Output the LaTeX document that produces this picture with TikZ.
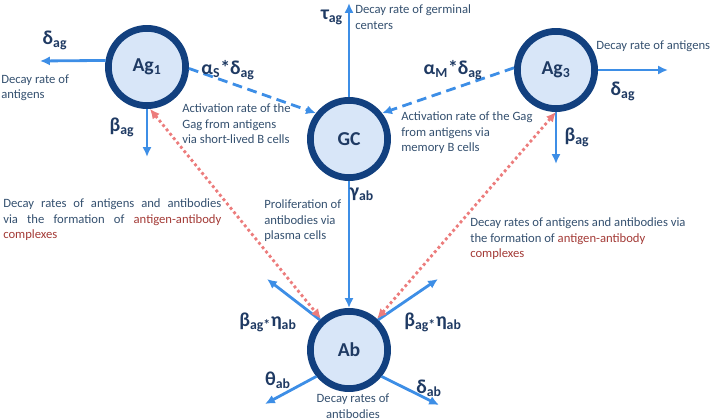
\documentclass[tikz,border=0pt]{standalone}
\usepackage{fontspec}
\setmainfont{Carlito}
\usetikzlibrary{arrows.meta}
\definecolor{poolnavy}{HTML}{12407F}
\definecolor{poolfill}{HTML}{D8E6F8}
\definecolor{flowblue}{HTML}{3D8EE6}
\definecolor{ratenavy}{HTML}{1F3A63}
\definecolor{notegray}{HTML}{34506F}
\definecolor{complexred}{HTML}{A33A36}
\definecolor{complexpink}{HTML}{EC7C7C}
\newcommand{\rate}[2]{#1\textsubscript{#2}}

\begin{document}
\begin{tikzpicture}[
x=0.025cm,
y=-0.025cm,
>={Latex[length=7pt,width=6.5pt]},
font=\fontsize{9}{11}\selectfont,
pool/.style={
circle,
draw=poolnavy,
line width=4.8pt,
fill=poolfill,
minimum size=1.93cm,
text=ratenavy,
font=\fontsize{14}{16}\selectfont\bfseries
},
flow/.style={
->,
line width=2pt,
draw=flowblue
},
activation/.style={
->,
line width=2pt,
draw=flowblue,
dash pattern=on 7pt off 4pt
},
complex/.style={
<->,
line width=2pt,
draw=complexpink,
dotted
},
ratelabel/.style={
inner sep=0pt,
text=ratenavy,
font=\fontsize{14}{16}\selectfont\bfseries
},
note/.style={
inner sep=0pt,
align=left,
text=notegray
}
]

\useasboundingbox (0,0) rectangle (713,420);

\node[pool] (ag1) at (147,67) {Ag\textsubscript{1}};
\node[pool] (gc) at (349,139) {GC};
\node[pool] (ag3) at (556,70) {Ag\textsubscript{3}};
\node[pool] (ab) at (349,350) {Ab};

\coordinate (ag1out) at (40,61);
\coordinate (ag1down) at (147,157);
\coordinate (gcup) at (349,3);
\coordinate (ag3out) at (668,70);
\coordinate (ag3down) at (556,164);
\coordinate (ableft) at (267,279);
\coordinate (abright) at (438,279);
\coordinate (abtheta) at (265,404);
\coordinate (abdelta) at (439,405);

\draw[flow] (ag1.171) -- (ag1out);
\draw[flow] (ag1.south) -- (ag1down);
\draw[activation] (ag1.-2) -- (gc.142);
\draw[flow] (gc.north) -- (gcup);
\draw[activation] (ag3.177) -- (gc.38);
\draw[flow] (ag3.east) -- (ag3out);
\draw[flow] (ag3.south) -- (ag3down);
\draw[flow] (gc.south) -- (ab.north);
\draw[flow] (ab.134) -- (ableft);
\draw[flow] (ab.46) -- (abright);
\draw[flow] (ab.219) -- (abtheta);
\draw[flow] (ab.-39) -- (abdelta);
\draw[complex] (ag1.-86) -- (ab.132);
\draw[complex] (ag3.-90) -- (ab.48);

\node[ratelabel] (dag1) at (55,40) {\rate{δ}{ag}};
\node[ratelabel] (bag1) at (122,127) {\rate{β}{ag}};
\node[ratelabel] (alphas) at (228,70) {\rate{α}{S}*\rate{δ}{ag}};
\node[ratelabel] (tauag) at (332,17) {\rate{τ}{ag}};
\node[ratelabel] (alpham) at (453,70) {\rate{α}{M}*\rate{δ}{ag}};
\node[ratelabel] (dag3) at (623,91) {\rate{δ}{ag}};
\node[ratelabel] (bag3) at (577,137) {\rate{β}{ag}};
\node[ratelabel] (gammaab) at (362,194) {\rate{γ}{ab}};
\node[ratelabel] (betaleft) at (268,322) {\rate{β}{ag*}\rate{η}{ab}};
\node[ratelabel] (betaright) at (433,322) {\rate{β}{ag*}\rate{η}{ab}};
\node[ratelabel] (thetaab) at (278,380) {\rate{θ}{ab}};
\node[ratelabel] (deltaab) at (429,388) {\rate{δ}{ab}};

\node[note, anchor=west] (ag1decay) at (1,88) {Decay rate of\\antigens};
\node[note, anchor=west] (actshort) at (182,124)
{Activation rate of the\\Gag from antigens\\via short-lived B cells};
\node[note, anchor=west] (gcdecay) at (355,17) {Decay rate of germinal\\centers};
\node[note, anchor=west] (actmemory) at (401,133)
{Activation rate of the Gag\\from antigens via\\memory B cells};
\node[note, anchor=west] (ag3decay) at (596,46) {Decay rate of antigens};
\node[note, anchor=west] (prolif) at (264,221)
{Proliferation of\\antibodies via\\plasma cells};
\node[note, anchor=west, text width=5.45cm, align=justify] (complexleft) at (3,220)
{Decay rates of antigens and antibodies\linebreak via the formation of \textcolor{complexred}{antigen-antibody}\linebreak \textcolor{complexred}{complexes}};
\node[note, anchor=west] (complexright) at (470,239)
{Decay rates of antigens and antibodies via\\the formation of \textcolor{complexred}{antigen-antibody}\\\textcolor{complexred}{complexes}};
\node[note, align=center] (abdecay) at (353,406) {Decay rates of\\antibodies};

\end{tikzpicture}
\end{document}
